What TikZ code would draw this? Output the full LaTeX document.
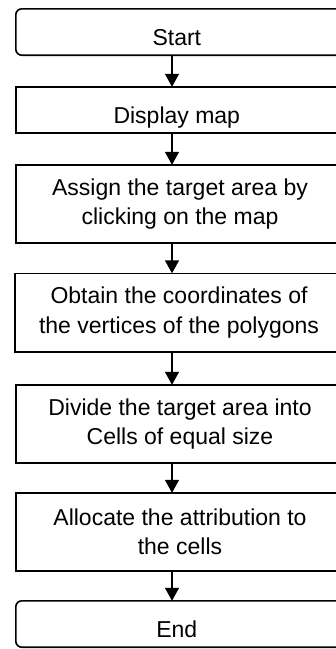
\documentclass[tikz,border=0pt]{standalone}
\usepackage{fontspec}
\setmainfont{Liberation Sans}
\usetikzlibrary{arrows.meta}

\begin{document}
\begin{tikzpicture}[x = 1pt, y = -1pt, every node/.style={font = \fontsize{23}{29.5}\selectfont, align = center, inner sep = 0pt, minimum width = 328pt}, term/.style={minimum height = 46pt, text height = 26pt, text depth = 0pt}, proc/.style={minimum height = 78pt}, frame/.style={line width = 1.6pt}, arr/.style={line width = 1.4pt, -{Triangle[width = 14pt, length = 13pt]}}]

  \useasboundingbox (0, 0) rectangle (336, 649);
  \clip (0, 0) rectangle (336, 649);

  \node[term] (start) at (180, 32) { Start };
  \node[term] (display) at (180, 110) { Display map };

  \node[proc] (assign) at (180, 204) { Assign the target area by\\ clicking on the map };
  \node[proc] (obtain) at (179, 312.5) { Obtain the coordinates of\\ the vertices of the polygons };
  \node[proc] (divide) at (180, 424) { Divide the target area into\\ Cells of equal size };
  \node[proc] (allocate) at (180, 532) { Allocate the attribution to\\ the cells };

  \node[term] (end) at (180, 624) { End };

  % boxes run past the right edge of the page
  \draw[frame, rounded corners = 6pt] (start.north east) -| (start.south west) -- (start.south east);
  \draw[frame] (display.north east) -| (display.south west) -- (display.south east);
  \draw[frame] (assign.north east) -| (assign.south west) -- (assign.south east);
  \draw[frame] (obtain.north east) -| (obtain.south west) -- (obtain.south east);
  \draw[frame] (divide.north east) -| (divide.south west) -- (divide.south east);
  \draw[frame] (allocate.north east) -| (allocate.south west) -- (allocate.south east);
  \draw[frame, rounded corners = 6pt] (end.north east) -| (end.south west) -- (end.south east);

  \coordinate (ax) at (172, 0);

  \draw[arr] (start.south -| ax) -- (display.north -| ax);
  \draw[arr] (display.south -| ax) -- (assign.north -| ax);
  \draw[arr] (assign.south -| ax) -- (obtain.north -| ax);
  \draw[arr] (obtain.south -| ax) -- (divide.north -| ax);
  \draw[arr] (divide.south -| ax) -- (allocate.north -| ax);
  \draw[arr] (allocate.south -| ax) -- (end.north -| ax);

\end{tikzpicture}
\end{document}
